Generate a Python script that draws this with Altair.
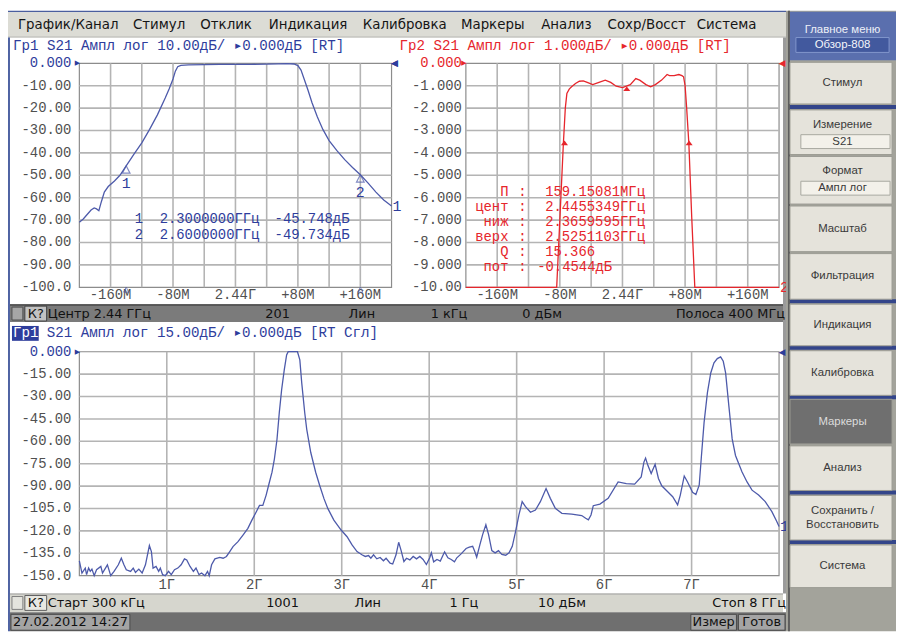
import altair as alt
import pandas as pd

M = 8  # page margin of the html page
ONE = pd.DataFrame({"k": [0]})

MONO = "Liberation Mono, DejaVu Sans Mono, monospace"
SANS = "DejaVu Sans"
SIDE = "Liberation Sans"

BLUE_TRACE = "#4d5aaa"
BLUE_TEXT = "#2e3d9c"
RED = "#e6262c"
GRID = "#b4b4b4"
FRAME = "#8c8c8c"
TICK = "#505050"

# ---------------- chart values ----------------
# Гр1 (top left): offset from 2.44 GHz in MHz, S21 in dB
tl_trace = [(-200, -71.0), (-195, -69.5), (-190, -67.5), (-185, -65.5), (-181, -64.6), (-178, -65.0),
            (-175, -65.8), (-172, -62.0), (-168, -57.5), (-163, -55.0), (-155, -52.5), (-148, -50.0),
            (-140, -45.75), (-130, -40.5), (-120, -35.5), (-110, -29.5), (-100, -23.0), (-90, -15.5),
            (-85, -11.5), (-80, -7.0), (-77, -3.5), (-74, -1.5), (-70, -0.9), (-60, -0.7), (-40, -0.6),
            (-20, -0.5), (0, -0.45), (20, -0.45), (40, -0.35), (55, -0.2), (65, -0.1), (75, -0.3),
            (80, -1.0), (84, -3.0), (88, -7.0), (93, -12.0), (98, -17.5), (105, -24.0), (112, -29.5),
            (120, -34.5), (130, -39.0), (140, -43.0), (150, -46.5), (160, -49.73), (170, -53.5),
            (180, -57.5), (190, -61.0), (200, -63.7)]
tl_marker_freq = [-140, 160]
tl_marker_db = [-45.748, -49.734]
tl_marker_id = ["1", "2"]

# Гр2 (top right): same span, 1 dB/div
tr_trace = [(-200, -10.0), (-84, -10.0), (-80, -7.0), (-75.5, -3.6), (-73, -2.0), (-71, -1.35),
            (-68, -1.15), (-65, -1.05), (-60, -0.9), (-55, -0.8), (-50, -0.78), (-45, -0.85),
            (-38, -0.95), (-30, -0.85), (-22, -0.75), (-15, -0.85), (-8, -1.02), (0, -1.08),
            (5, -1.02), (10, -0.95), (17, -0.68), (22, -0.75), (30, -0.95), (36, -1.05), (42, -0.95),
            (50, -0.75), (57, -0.5), (60, -0.55), (66, -0.55), (72, -0.5), (76, -0.55), (78, -0.6),
            (80, -1.0), (82, -2.0), (84.8, -3.58), (88.5, -6.9), (92.4, -10.0), (200, -10.0)]
tr_marker_freq = [-74.04, 5.53, 85.11]
tr_marker_db = [-3.45, -1.03, -3.45]

# bottom: 300 kHz .. 8 GHz, 15 dB/div
bot_trace = [(0.0003, -140.0), (0.030, -148.2), (0.068, -144.9), (0.083, -149.3), (0.106, -144.9),
             (0.125, -147.1), (0.144, -145.6), (0.170, -150.0), (0.197, -146.0), (0.246, -143.8),
             (0.265, -148.2), (0.321, -142.7), (0.359, -150.0), (0.397, -147.1), (0.446, -142.7),
             (0.480, -138.3), (0.510, -142.7), (0.537, -146.0), (0.586, -147.1), (0.616, -144.9),
             (0.642, -147.8), (0.680, -145.6), (0.718, -148.2), (0.756, -142.7), (0.801, -129.8),
             (0.824, -133.8), (0.843, -144.9), (0.877, -143.8), (0.907, -147.1), (0.926, -144.9),
             (0.952, -149.3), (0.983, -150.0), (1.020, -147.1), (1.051, -149.3), (1.088, -146.0),
             (1.126, -144.9), (1.164, -142.7), (1.202, -138.7), (1.228, -139.4), (1.266, -143.8),
             (1.304, -147.1), (1.334, -144.9), (1.368, -149.3), (1.398, -148.2), (1.436, -150.0),
             (1.466, -147.1), (1.485, -150.0), (1.512, -142.7), (1.550, -138.7), (1.606, -137.8),
             (1.644, -138.3), (1.682, -137.1), (1.720, -133.8), (1.757, -130.5), (1.814, -127.2),
             (1.871, -122.8), (1.927, -118.3), (1.973, -112.8), (2.022, -107.3), (2.060, -102.9),
             (2.098, -102.9), (2.135, -96.2), (2.173, -87.4), (2.203, -80.7), (2.230, -71.9),
             (2.260, -58.6), (2.286, -40.9), (2.313, -25.4), (2.343, -12.2), (2.370, -2.2),
             (2.388, 0.0), (2.494, 0.0), (2.521, -5.5), (2.543, -21.0), (2.577, -40.9), (2.600, -52.0),
             (2.646, -67.5), (2.702, -80.7), (2.748, -89.6), (2.797, -98.4), (2.842, -105.1),
             (2.910, -112.8), (2.993, -119.4), (3.061, -123.9), (3.118, -129.4), (3.175, -133.8),
             (3.231, -136.0), (3.269, -137.1), (3.307, -136.5), (3.333, -138.3), (3.364, -136.0),
             (3.401, -138.7), (3.439, -137.8), (3.477, -140.0), (3.507, -138.3), (3.553, -141.6),
             (3.583, -142.2), (3.621, -136.0), (3.651, -127.6), (3.677, -132.7), (3.711, -140.5),
             (3.741, -138.3), (3.779, -139.4), (3.817, -137.1), (3.855, -138.7), (3.893, -137.1),
             (3.930, -139.1), (3.968, -142.5), (4.006, -138.0), (4.025, -134.7), (4.051, -140.7),
             (4.089, -139.1), (4.127, -140.2), (4.176, -134.0), (4.214, -138.0), (4.252, -139.1),
             (4.289, -140.7), (4.316, -138.0), (4.365, -135.4), (4.422, -131.8), (4.459, -130.9),
             (4.497, -130.3), (4.520, -133.6), (4.543, -137.6), (4.580, -129.2), (4.611, -122.5),
             (4.648, -115.9), (4.679, -122.5), (4.716, -133.2), (4.754, -134.7), (4.792, -133.2),
             (4.830, -135.8), (4.875, -136.3), (4.913, -134.7), (4.950, -130.3), (4.988, -120.3),
             (5.026, -109.3), (5.063, -100.4), (5.101, -103.7), (5.158, -107.5), (5.215, -106.0),
             (5.271, -100.4), (5.336, -91.6), (5.385, -98.2), (5.442, -104.9), (5.517, -108.2),
             (5.630, -108.8), (5.744, -109.7), (5.789, -111.5), (5.820, -112.6), (5.850, -109.3),
             (5.876, -103.1), (5.952, -102.0), (6.046, -98.2), (6.160, -87.2), (6.254, -88.3),
             (6.349, -88.7), (6.424, -83.8), (6.455, -73.9), (6.474, -71.2), (6.500, -76.1),
             (6.538, -81.6), (6.583, -75.4), (6.621, -84.9), (6.659, -89.8), (6.727, -93.8),
             (6.784, -97.1), (6.840, -102.6), (6.871, -96.0), (6.916, -83.2), (6.954, -87.2),
             (7.011, -94.2), (7.049, -95.6), (7.087, -89.4), (7.113, -69.5), (7.143, -47.3),
             (7.181, -27.4), (7.219, -14.2), (7.256, -7.5), (7.294, -4.6), (7.332, -3.5),
             (7.362, -6.4), (7.389, -14.2), (7.426, -36.3), (7.464, -58.4), (7.502, -69.5),
             (7.577, -80.5), (7.634, -87.2), (7.691, -92.7), (7.766, -96.0), (7.842, -100.4),
             (7.918, -107.1), (7.974, -113.7), (8.000, -117.0)]

span_grid = [-160, -120, -80, -40, 0, 40, 80, 120, 160]
span_ticks = [-160, -80, 0, 80, 160]
span_tick_labels = ["-160M", "-80M", "2.44Г", "+80M", "+160M"]
tl_yticks = [0, -10, -20, -30, -40, -50, -60, -70, -80, -90, -100]
tl_ytick_labels = ["0.000", "-10.00", "-20.00", "-30.00", "-40.00", "-50.00", "-60.00", "-70.00",
                   "-80.00", "-90.00", "-100.0"]
tr_yticks = [0, -1, -2, -3, -4, -5, -6, -7, -8, -9, -10]
tr_ytick_labels = ["0.000", "-1.000", "-2.000", "-3.000", "-4.000", "-5.000", "-6.000", "-7.000",
                   "-8.000", "-9.000", "-10.00"]
bot_xticks = [1, 2, 3, 4, 5, 6, 7]
bot_xtick_labels = ["1Г", "2Г", "3Г", "4Г", "5Г", "6Г", "7Г"]
bot_yticks = [0, -15, -30, -45, -60, -75, -90, -105, -120, -135, -150]
bot_ytick_labels = ["0.000", "-15.00", "-30.00", "-45.00", "-60.00", "-75.00", "-90.00", "-105.0",
                    "-120.0", "-135.0", "-150.0"]

tl_readout = [("1", "2.3000000ГГц", "-45.748дБ"), ("2", "2.6000000ГГц", "-49.734дБ")]
tr_readout_names = ["П", "цент", "ниж", "верх", "Q", "пот"]
tr_readout_vals = ["159.15081МГц", "2.4455349ГГц", "2.3659595ГГц", "2.5251103ГГц", "15.366", "-0.4544дБ"]

menu_items = ["График/Канал", "Стимул", "Отклик", "Индикация", "Калибровка", "Маркеры", "Анализ",
              "Сохр/Восст", "Система"]
status1 = ["Центр 2.44 ГГц", "201", "Лин", "1 кГц", "0 дБм", "Полоса 400 МГц"]
status2 = ["Старт 300 кГц", "1001", "Лин", "1 Гц", "10 дБм", "Стоп 8 ГГц"]
side_buttons = [["Стимул"], ["Измерение", "S21"], ["Формат", "Ампл лог"], ["Масштаб"], ["Фильтрация"],
                ["Индикация"], ["Калибровка"], ["Маркеры"], ["Анализ"], ["Сохранить /", "Восстановить"],
                ["Система"]]

# ---------------- layout (page pixels) ----------------
menu_x = [18, 134, 202, 271, 366, 465, 546, 613, 703]
button_y = [(60, 102), (108, 153), (155, 203), (205, 251), (253, 299), (304, 346), (351, 396),
            (400, 445), (447, 492), (497, 542), (547, 590)]
separators = [(103, 107), (299, 303), (346, 350), (396, 400), (492, 496), (542, 546)]
status_x = [(48, "left"), (280, "center"), (365, "center"), (453, "center"), (547, "center"), (792, "right")]
status2_x = [(48, "left"), (285, "center"), (371, "center"), (468, "center"), (567, "center"), (793, "right")]


def P(v):
    return v - M


def rect(x0, y0, x1, y1, fill, stroke=None, sw=1.0):
    kw = {"fill": fill}
    if stroke is not None:
        kw["stroke"] = stroke
        kw["strokeWidth"] = sw
    return alt.Chart(ONE).mark_rect(**kw).encode(
        x=alt.value(P(x0)), x2=alt.value(P(x1)), y=alt.value(P(y0)), y2=alt.value(P(y1)))


def text(s, x, y, size=13, color="#111111", align="left", font=SANS, weight="normal"):
    return alt.Chart(ONE).mark_text(text=s, align=align, baseline="middle", font=font, fontSize=size,
                                    color=color, fontWeight=weight).encode(
        x=alt.value(P(x)), y=alt.value(P(y)))


def scale(domain, rng):
    return alt.Scale(domain=domain, range=[P(rng[0]), P(rng[1])], nice=False, zero=False)


def panel(xs, ys, xdom, ydom, xgrid, ygrid, trace, color, xt, xtl, yt, ytl, ylab_x, xlab_y, end_label):
    L = []
    X = lambda f: alt.X(f, type="quantitative", scale=xs, axis=None)
    Y = lambda f: alt.Y(f, type="quantitative", scale=ys, axis=None)
    # frame first (stroke only), grid drawn on top of it
    fr = pd.DataFrame({"x0": [xdom[0]], "x1": [xdom[1]], "y0": [ydom[0]], "y1": [ydom[1]]})
    L.append(alt.Chart(fr).mark_rect(fill="transparent", fillOpacity=0, stroke=FRAME, strokeWidth=1.2).encode(
        x=X("x0"), x2=alt.X2("x1"), y=Y("y0"), y2=alt.Y2("y1")))
    # vertical grid lines: one two-point line per grid value
    gv = pd.DataFrame({"gx": [g for g in xgrid for _ in (0, 1)],
                       "gy": [ydom[k] for _ in xgrid for k in (0, 1)],
                       "gid": [str(g) for g in xgrid for _ in (0, 1)]})
    L.append(alt.Chart(gv).mark_line(color=GRID, strokeWidth=1.6).encode(
        x=X("gx"), y=Y("gy"), detail="gid:N", order="gy:Q"))
    # horizontal grid lines
    gh = pd.DataFrame({"hx": [xdom[k] for _ in ygrid for k in (0, 1)],
                       "hy": [g for g in ygrid for _ in (0, 1)],
                       "hid": [str(g) for g in ygrid for _ in (0, 1)]})
    L.append(alt.Chart(gh).mark_line(color=GRID, strokeWidth=1.6).encode(
        x=X("hx"), y=Y("hy"), detail="hid:N", order="hx:Q"))
    tr = pd.DataFrame(trace, columns=["f", "db"])
    L.append(alt.Chart(tr).mark_line(color=color, strokeWidth=1.3).encode(x=X("f"), y=Y("db")))
    ref_col = RED if color == RED else BLUE_TEXT
    yl = pd.DataFrame({"v": yt, "lab": ytl})
    L.append(alt.Chart(yl).mark_text(align="right", baseline="middle", font=MONO, fontSize=14).encode(
        y=Y("v"), x=alt.value(P(ylab_x)), text="lab:N",
        color=alt.condition(alt.datum.v == 0, alt.value(ref_col), alt.value(TICK))))
    xl = pd.DataFrame({"f": xt, "lab": xtl})
    L.append(alt.Chart(xl).mark_text(align="center", baseline="middle", font=MONO, fontSize=14,
                                     color=TICK).encode(x=X("f"), y=alt.value(P(xlab_y)), text="lab:N"))
    # reference level arrows
    L.append(alt.Chart(pd.DataFrame({"f": [xdom[0]], "v": [0]})).mark_text(
        text="▶", fontSize=7, dx=-2, align="center", baseline="middle", color=ref_col, font=SANS).encode(
        x=X("f"), y=Y("v")))
    L.append(alt.Chart(pd.DataFrame({"f": [xdom[1]], "v": [0]})).mark_text(
        text="◀", fontSize=9, dx=3, align="center", baseline="middle", color=ref_col, font=SANS).encode(
        x=X("f"), y=Y("v")))
    end = pd.DataFrame({"f": [trace[-1][0]], "v": [trace[-1][1]], "lab": [end_label]})
    L.append(alt.Chart(end).mark_text(dx=1, align="left", baseline="middle", font=MONO, fontSize=15,
                                      color=ref_col).encode(x=X("f"), y=Y("v"), text="lab:N"))
    return L, X, Y


layers = []

# ---------- chrome: frame, menu ----------
layers.append(rect(8, 8, 793, 9.5, "#4a5e9e"))
layers.append(rect(8, 9.5, 793, 34, "#dcdcd5"))
layers.append(rect(8, 34, 793, 35, "#a8a8a0"))
layers.append(rect(8, 35, 10, 634, "#4f63a3"))
layers.append(rect(790, 35, 793, 596, "#9a9a9a"))
for s, x in zip(menu_items, menu_x):
    layers.append(text(s, x, 22, size=13.5, color="#151515"))

# ---------- top-left panel ----------
TLX = scale([-200, 200], (80, 395))
TLY = scale([-100, 0], (287, 61))
L, X, Y = panel(TLX, TLY, [-200, 200], [-100, 0], span_grid, tl_yticks[1:-1], tl_trace, BLUE_TRACE,
                span_ticks, span_tick_labels, tl_yticks, tl_ytick_labels, 72, 295, "1")
layers += L
mk = pd.DataFrame({"f": tl_marker_freq, "v": tl_marker_db, "lab": tl_marker_id})
layers.append(alt.Chart(mk).mark_point(shape="M0,0L-0.65,1.25L0.65,1.25Z", size=140, filled=False,
                                       color=BLUE_TRACE, strokeWidth=1.2).encode(x=X("f"), y=Y("v")))
layers.append(alt.Chart(mk).mark_text(dy=17, font=MONO, fontSize=15, color=BLUE_TEXT,
                                      baseline="middle").encode(x=X("f"), y=Y("v"), text="lab:N"))
layers.append(alt.Chart(mk).mark_point(shape="M0,-1L-0.8,0.6L0.8,0.6Z", size=40, filled=False,
                                       color=BLUE_TRACE, strokeWidth=1).encode(x=X("f"), y=alt.value(P(290))))
layers.append(text("Гр1 S21 Ампл лог 10.00дБ/ ▸0.000дБ [RT]", 13, 44, size=14.3, color=BLUE_TEXT, font=MONO))
for i, (n, fv, dv) in enumerate(tl_readout):
    yy = 218 + 16 * i
    layers.append(text(n, 140, yy, size=14, color=BLUE_TEXT, font=MONO, align="center"))
    layers.append(text(fv, 161, yy, size=14, color=BLUE_TEXT, font=MONO))
    layers.append(text(dv, 277, yy, size=14, color=BLUE_TEXT, font=MONO))

# ---------- top-right panel ----------
TRX = scale([-200, 200], (470, 786))
TRY = scale([-10, 0], (287, 61))
L, X, Y = panel(TRX, TRY, [-200, 200], [-10, 0], span_grid, tr_yticks[1:-1], tr_trace, RED,
                span_ticks, span_tick_labels, tr_yticks, tr_ytick_labels, 466, 295, "2")
layers += L
mk2 = pd.DataFrame({"f": tr_marker_freq, "v": tr_marker_db})
layers.append(alt.Chart(mk2).mark_point(shape="M0,0L-0.75,1L0.75,1Z", size=90, filled=True, opacity=1,
                                        color=RED).encode(x=X("f"), y=Y("v")))
layers.append(text("Гр2 S21 Ампл лог 1.000дБ/ ▸0.000дБ [RT]", 403, 44, size=14.3, color=RED, font=MONO))
for i, (n, v) in enumerate(zip(tr_readout_names, tr_readout_vals)):
    yy = 191 + 15.2 * i
    layers.append(text(n, 513, yy, size=14, color=RED, font=MONO, align="right"))
    layers.append(text(":", 527, yy, size=14, color=RED, font=MONO, align="center"))
    layers.append(text(v, 542 if v.startswith("-") else 550, yy, size=14, color=RED, font=MONO))
# trace-1 right-edge marker shown next to panel 2
layers.append(text("◀", 398, 61, size=9, color=BLUE_TEXT, align="center"))

# ---------- status bar 1 ----------
layers.append(rect(10, 304, 790, 322, "#7b7b7b"))
layers.append(rect(10, 304, 790, 305.5, "#4a4a4a"))
layers.append(rect(12, 307, 23, 320, "#a6a6a6", "#505050"))
layers.append(rect(25, 306, 47, 321, "#c2c2c2", "#404040"))
layers.append(text("К?", 36, 313.5, size=13, align="center"))
for s, (x, a) in zip(status1, status_x):
    layers.append(text(s, x, 313.5, size=13, align=a))

# ---------- bottom panel ----------
BX = scale([0.0003, 8], (80, 786))
BY = scale([-150, 0], (578, 352))
L, X, Y = panel(BX, BY, [0.0003, 8], [-150, 0], bot_xticks, bot_yticks[1:-1], bot_trace, BLUE_TRACE,
                bot_xticks, bot_xtick_labels, bot_yticks, bot_ytick_labels, 72, 587, "1")
layers += L
layers.append(rect(12, 326, 39, 341, "#2e3d9c"))
layers.append(text("Гр1", 13, 333, size=14.3, color="#ffffff", font=MONO))
layers.append(text("S21 Ампл лог 15.00дБ/ ▸0.000дБ [RT Сгл]", 47, 333, size=14.3, color=BLUE_TEXT, font=MONO))

# ---------- status bar 2 and date bar ----------
layers.append(rect(10, 596, 790, 615, "#d6d6ce"))
layers.append(rect(10, 596, 790, 597, "#a0a0a0"))
layers.append(rect(12, 599, 23, 612, "#e4e4de", "#808080"))
layers.append(rect(25, 598, 47, 613, "#e8e8e2", "#606060"))
layers.append(text("К?", 36, 606, size=13, align="center"))
for s, (x, a) in zip(status2, status2_x):
    layers.append(text(s, x, 606, size=13, align=a))
layers.append(rect(10, 615, 793, 634, "#6f6f6f"))
layers.append(rect(11, 617, 131, 633, "#a4a4a4", "#4a4a4a"))
layers.append(text("27.02.2012 14:27", 13, 625, size=13))
layers.append(rect(697, 617, 743, 633, "#a4a4a4", "#4a4a4a"))
layers.append(text("Измер", 720, 625, size=13, align="center"))
layers.append(rect(745, 617, 792, 633, "#a4a4a4", "#4a4a4a"))
layers.append(text("Готов", 768.5, 625, size=13, align="center"))

# ---------- side menu ----------
layers.append(rect(793, 8, 904, 634, "#a3a39b"))
layers.append(rect(795, 8, 797, 634, "#5e5e5e"))
layers.append(rect(797, 9, 904, 58, "#5a6fae"))
layers.append(text("Главное меню", 850, 27, size=11.5, color="#eef1f8", font=SIDE, align="center"))
layers.append(rect(803, 35, 897, 50, "#42599e", "#8397cc"))
layers.append(text("Обзор-808", 850, 43, size=11.5, color="#f4f6fb", font=SIDE, align="center"))
for (y0, y1) in separators:
    layers.append(rect(797, y0, 904, y1, "#33458a"))
for lab, (y0, y1) in zip(side_buttons, button_y):
    dark = lab[0] == "Маркеры"
    layers.append(rect(797, y0, 900, y1, "#6f6f6f" if dark else "#e5e3db", "#9c9c94"))
    col = "#dcdcdc" if dark else "#3a3a3a"
    if len(lab) == 1:
        layers.append(text(lab[0], 850, (y0 + y1) / 2, size=11.5, color=col, font=SIDE, align="center"))
    elif lab[0] == "Сохранить /":
        layers.append(text(lab[0], 850, (y0 + y1) / 2 - 7, size=11.5, color=col, font=SIDE, align="center"))
        layers.append(text(lab[1], 850, (y0 + y1) / 2 + 7, size=11.5, color=col, font=SIDE, align="center"))
    else:
        layers.append(text(lab[0], 850, y0 + 15, size=11.5, color=col, font=SIDE, align="center"))
        layers.append(rect(808, y0 + 25, 898, y0 + 39, "#f3f1ea", "#a8a8a0"))
        layers.append(text(lab[1], 850, y0 + 32, size=11.5, color=col, font=SIDE, align="center"))

chart = alt.layer(*layers).resolve_scale(x="independent", y="independent").properties(
    width=896, height=626, padding=0, autosize=alt.AutoSizeParams(type="none"), background="white"
).configure_view(stroke=None)

chart.save("out.html", embed_options={"renderer": "svg", "actions": False})
